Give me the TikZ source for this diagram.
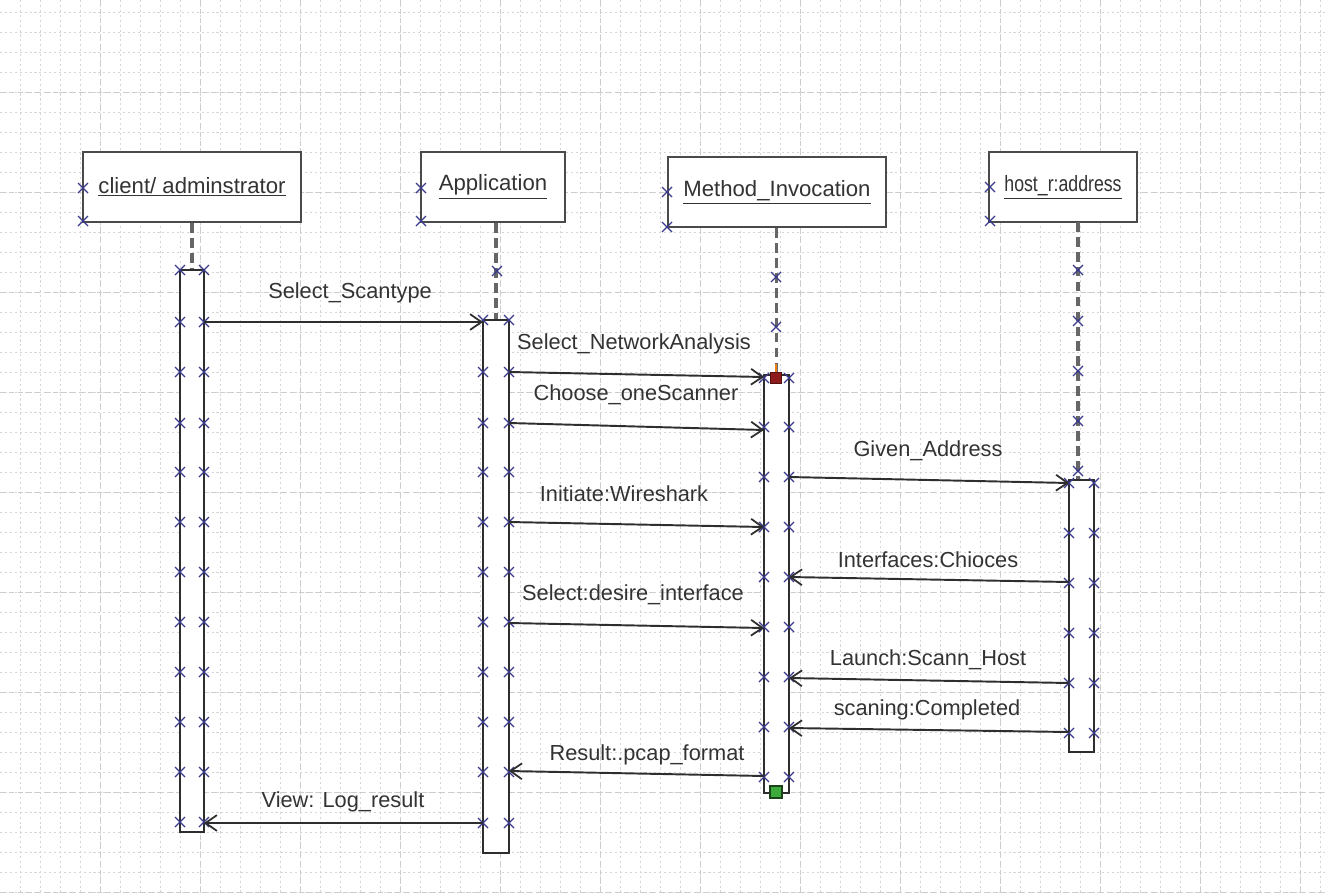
\documentclass[tikz,border=0pt]{standalone}
\usepackage{fontspec}
\usepackage{graphicx}
\setmainfont{Liberation Sans}
\usetikzlibrary{arrows.meta}
\definecolor{ink}{HTML}{2E2E2E}
\definecolor{txt}{HTML}{333333}
\definecolor{frame}{HTML}{4A4A4A}
\definecolor{lifegray}{HTML}{666666}
\definecolor{crossblue}{HTML}{3A3A8C}
\definecolor{gridgray}{HTML}{D6D6D6}
\definecolor{gridmaj}{HTML}{CCCCCC}
\definecolor{startred}{HTML}{8E1B1B}
\definecolor{endgreen}{HTML}{3DAA3D}
\tikzset{
  gridln/.style={gridgray, line width=0.4pt, dash pattern=on 1.2pt off 1.6pt},
  gridbold/.style={gridmaj, line width=0.45pt, dash pattern=on 3pt off 2pt},
  hdr/.style={draw=frame, line width=1.4pt, fill=white, inner sep=0pt,
    minimum height=1.4cm, text=txt, font=\fontsize{12.6}{15}\selectfont},
  actbar/.style={draw=ink, line width=1.1pt, fill=white, inner sep=0pt},
  lifel/.style={lifegray, line width=1.9pt, dash pattern=on 5.5pt off 3pt},
  msg/.style={ink, line width=1.1pt, -{Straight Barb[length=6.5pt,width=9pt,line width=1pt]}},
  lbl/.style={text=txt, inner sep=0pt, font=\fontsize{12.4}{15}\selectfont},
  xmk/.style={crossblue, line width=0.65pt},
  xmark/.pic={\draw[xmk] (-5,-5) -- (5,5) (-5,5) -- (5,-5);}
}
\begin{document}
\begin{tikzpicture}[x=0.02cm, y=-0.02cm]
% canvas and background grid
\useasboundingbox (0,0) rectangle (1325,893);
\fill[white] (0,0) rectangle (1325,893);
\foreach \gx in {20,40,...,1320} \draw[gridln] (\gx,0) -- (\gx,893);
\foreach \gy in {12,32,...,892} \draw[gridln] (0,\gy) -- (1325,\gy);
\foreach \gx in {100,200,...,1300} \draw[gridbold] (\gx,0) -- (\gx,893);
\foreach \gy in {92,192,...,892} \draw[gridbold] (0,\gy) -- (1325,\gy);

% object headers
\node[hdr, minimum width=4.36cm] (hC) at (192,187) {\underline{client/ adminstrator}};
\node[hdr, minimum width=2.88cm] (hA) at (493,187) {\underline{Application}};
\node[hdr, minimum width=4.36cm] (hM) at (777,192) {\underline{Method\_Invocation}};
\node[hdr, minimum width=2.96cm] (hH) at (1063,187) {\scalebox{0.8}[1]{\underline{host\_r:address}}};

% activation bars
\path (192,551) node[actbar, minimum width=0.48cm, minimum height=11.24cm] (aC) {};
\path (496,586.5) node[actbar, minimum width=0.52cm, minimum height=10.66cm] (aA) {};
\path (776.5,584) node[actbar, minimum width=0.5cm, minimum height=8.36cm] (aM) {};
\path (1081.5,616) node[actbar, minimum width=0.5cm, minimum height=5.44cm] (aH) {};

% lifelines
\draw[lifel] (hC.south -| aC.north) -- (aC.north);
\draw[lifel] (hA.south -| aA.north) -- (aA.north);
\draw[lifel] (hM.south -| aM.north) -- (aM.north);
\coordinate (hHfoot) at (1078,222);
\coordinate (aHtop) at (1078,480);
\draw[lifel] (hHfoot) -- (aHtop);

% bars again, over the lifelines
\path (192,551) node[actbar, minimum width=0.48cm, minimum height=11.24cm] {};
\path (496,586.5) node[actbar, minimum width=0.52cm, minimum height=10.66cm] {};
\path (776.5,584) node[actbar, minimum width=0.5cm, minimum height=8.36cm] {};
\path (1081.5,616) node[actbar, minimum width=0.5cm, minimum height=5.44cm] {};

% start / end markers of the invocation
\draw[orange!70!brown, line width=1.6pt] (776,364) -- (776,372);
\node[draw=startred!60!black, fill=startred, line width=0.6pt, minimum size=0.22cm, inner sep=0pt] (mStart) at (776,378) {};
\node[draw=endgreen!40!black, fill=endgreen, line width=0.8pt, minimum size=0.24cm, inner sep=0pt] (mEnd) at (776,792) {};

% connection handles
\foreach \yy in {270,322,372,423,472,522,572,622,672,722,772,822}
  {\pic at (180,\yy) {xmark}; \pic at (204,\yy) {xmark};}
\foreach \yy in {320,372,423,472,522,572,622,672,722,772,823}
  {\pic at (483,\yy) {xmark}; \pic at (509,\yy) {xmark};}
\pic at (497,271) {xmark};
\foreach \yy in {427,477,527,577,627,677,727,777}
  {\pic at (764,\yy) {xmark}; \pic at (789,\yy) {xmark};}
\pic at (764,378) {xmark}; \pic at (789,378) {xmark};
\pic at (776,277) {xmark}; \pic at (776,327) {xmark};
\foreach \yy in {483,533,583,633,683,733}
  {\pic at (1069,\yy) {xmark}; \pic at (1094,\yy) {xmark};}
\foreach \yy in {270,321,371,421,471}
  {\pic at (1078,\yy) {xmark};}
\pic at (83,188) {xmark}; \pic at (83,221) {xmark};
\pic at (421,188) {xmark}; \pic at (421,221) {xmark};
\pic at (667,192) {xmark}; \pic at (667,227) {xmark};
\pic at (990,187) {xmark}; \pic at (990,221) {xmark};

% message end points
\coordinate (s1) at (204,322);  \coordinate (d1) at (483,322);
\coordinate (s2) at (509,372);  \coordinate (d2) at (764,377);
\coordinate (s3) at (509,423);  \coordinate (d3) at (764,430);
\coordinate (s4) at (789,477);  \coordinate (d4) at (1069,483);
\coordinate (s5) at (509,522);  \coordinate (d5) at (764,527);
\coordinate (s6) at (1069,582); \coordinate (d6) at (789,577);
\coordinate (s7) at (509,623);  \coordinate (d7) at (764,628);
\coordinate (s8) at (1069,683); \coordinate (d8) at (789,678);
\coordinate (s9) at (1069,732); \coordinate (d9) at (789,728);
\coordinate (s10) at (764,776); \coordinate (d10) at (509,771);
\coordinate (s11) at (483,823); \coordinate (d11) at (204,823);

% messages
\foreach \k in {1,...,11} \draw[msg] (s\k) -- (d\k);

% message labels
\node[lbl] (l1) at (350,293) {Select\_Scantype};
\node[lbl] (l2) at (634,344) {Select\_NetworkAnalysis};
\node[lbl] (l3) at (636,395) {Choose\_oneScanner};
\node[lbl] (l4) at (928,451) {Given\_Address};
\node[lbl] (l5) at (624,494) {Initiate:Wireshark};
\node[lbl] (l6) at (928,560) {Interfaces:Chioces};
\node[lbl] (l7) at (633,595) {Select:desire\_interface};
\node[lbl] (l8) at (928,660) {Launch:Scann\_Host};
\node[lbl] (l9) at (927,710) {scaning:Completed};
\node[lbl] (l10) at (647,755) {Result:.pcap\_format};
\node[lbl] (l11) at (343,802) {View: Log\_result};
\end{tikzpicture}
\end{document}
